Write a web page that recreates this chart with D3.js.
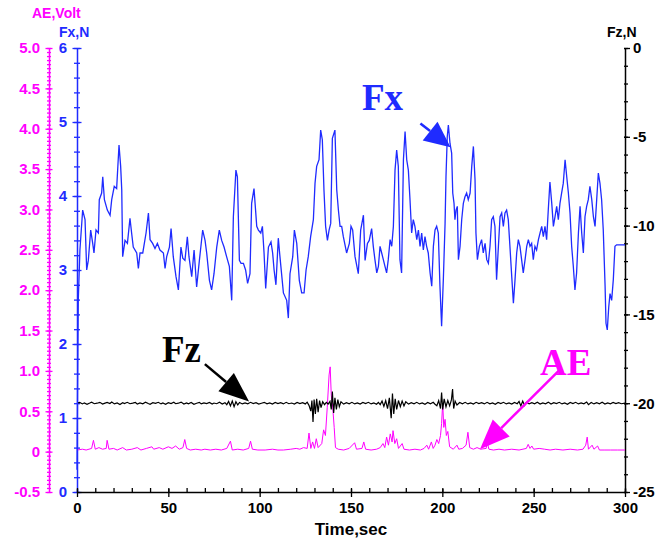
<!DOCTYPE html>
<html>
<head>
<meta charset="utf-8">
<script src="https://cdn.jsdelivr.net/npm/d3@7"></script>
<style>
  body { margin: 0; background: #fff; }
  text { font-family: "Liberation Sans", Arial, sans-serif; font-weight: bold; }
</style>
</head>
<body>
<div id="chart"></div>
<script>
// ---- data: [time sec, value] ----
const fxData = [
  [0,0.3],[0.3,1.4],[0.7,2.59],[1.6,3.27],[3.1,3.81],[4.4,3.68],[5.3,3.0],[6.2,3.13],[7.5,3.54],[8.6,3.36],
  [9.3,3.23],[10.4,3.54],[11.7,3.5],[12.2,3.95],[13.5,4.04],[14.1,4.26],[15.0,3.95],[16.6,3.81],[18.1,3.74],[19.0,3.95],
  [20.4,4.13],[21.7,4.1],[23.0,4.69],[23.9,4.4],[24.5,4.08],[25.0,3.18],[26.3,3.4],[27.6,3.36],[29.0,3.7],[29.9,3.5],
  [30.8,3.31],[32.7,3.23],[33.6,3.02],[34.5,3.23],[36.0,3.23],[37.8,3.5],[39.1,3.77],[40.0,3.41],[41.4,3.36],[42.7,3.29],
  [44.0,3.36],[45.4,3.27],[47.3,3.23],[48.2,3.02],[49.1,3.18],[50.6,3.31],[51.5,3.56],[52.7,3.18],[54.2,2.91],[55.5,2.73],
  [56.9,3.31],[57.9,3.16],[59.1,3.13],[60.4,3.45],[61.3,3.18],[62.8,2.91],[64.1,3.27],[65.5,2.77],[67.0,3.13],[68.8,3.54],
  [70.1,3.4],[71.0,3.23],[72.5,2.86],[73.7,2.73],[75.0,2.95],[76.5,3.31],[77.9,3.54],[79.2,3.4],[80.5,3.31],[81.9,3.18],
  [83.4,3.05],[84.7,2.59],[85.6,3.72],[87.0,4.35],[87.8,4.26],[88.9,3.13],[89.8,3.09],[91.1,3.09],[92.3,3.0],[93.4,2.82],
  [94.7,2.95],[95.6,3.9],[96.9,4.1],[98.4,3.59],[99.3,3.54],[100.6,3.5],[101.5,3.59],[102.4,3.23],[103.3,2.75],[104.8,3.31],
  [106.2,3.38],[107.1,3.23],[107.9,3.0],[108.9,2.8],[110.2,3.43],[111.1,3.18],[113.0,2.69],[114.8,2.59],[115.7,2.35],[116.6,2.95],
  [118.1,3.18],[119.0,3.54],[120.3,3.36],[121.7,2.86],[123.0,2.69],[124.3,2.69],[125.4,3.0],[126.6,3.18],[127.9,3.45],[129.4,3.68],
  [130.3,4.17],[131.2,4.4],[132.5,4.49],[133.4,4.89],[134.3,4.76],[135.2,4.08],[136.1,3.59],[137.1,3.4],[138.0,3.54],[138.9,3.63],
  [139.8,4.78],[141.2,4.89],[142.2,4.08],[143.1,3.81],[144.0,3.59],[144.9,3.59],[145.8,3.45],[147.6,3.23],[149.1,3.36],[150.0,3.59],
  [150.9,3.54],[152.2,3.18],[154.0,2.95],[155.3,3.54],[156.8,3.74],[157.7,3.13],[159.0,3.36],[160.0,3.4],[161.3,3.56],[162.2,3.32],
  [163.1,3.14],[164.1,2.96],[165.0,3.05],[165.9,3.32],[166.8,3.23],[167.7,3.14],[168.6,3.05],[169.5,2.96],[170.4,3.14],[171.4,3.41],
  [172.3,3.32],[173.2,3.59],[174.1,4.35],[175.0,4.62],[175.9,4.4],[176.8,3.14],[177.7,2.96],[178.7,4.49],[179.6,4.87],[180.5,4.49],
  [181.4,4.35],[182.3,3.95],[183.2,3.5],[184.1,3.68],[185.0,3.59],[186.0,3.41],[186.9,3.54],[187.8,3.32],[188.7,3.5],[189.6,3.27],
  [190.5,3.45],[191.4,3.32],[192.3,3.23],[193.3,2.96],[194.2,2.78],[195.1,3.32],[196.0,3.54],[196.9,3.59],[197.8,3.5],[198.7,2.78],
  [199.6,2.24],[200.6,2.91],[201.5,3.63],[202.0,4.26],[202.7,4.8],[203.3,4.96],[204.2,4.71],[205.1,4.58],[205.7,4.04],[206.4,3.9],
  [206.9,3.68],[207.5,3.81],[208.2,3.86],[208.8,3.14],[209.7,3.32],[210.6,3.68],[211.5,3.9],[212.4,3.99],[213.3,4.04],[214.2,3.95],
  [215.2,4.04],[216.1,4.4],[217.0,4.67],[217.9,4.22],[218.4,3.5],[219.2,3.14],[220.3,3.32],[221.5,3.41],[222.4,3.23],[223.4,3.36],
  [224.3,3.14],[225.2,3.09],[226.1,3.32],[227.0,3.68],[227.9,3.72],[228.8,3.59],[229.7,2.87],[230.7,3.32],[231.6,3.72],[232.5,3.77],
  [233.4,3.59],[234.3,3.77],[235.2,3.81],[236.1,3.68],[237.0,3.32],[238.0,2.91],[238.9,2.55],[239.8,2.87],[240.7,3.23],[241.6,3.41],
  [242.5,3.32],[243.4,3.14],[244.3,2.96],[245.3,3.14],[246.2,3.32],[247.1,3.41],[248.0,3.32],[248.9,3.36],[249.8,3.14],[250.7,3.32],
  [251.6,3.27],[252.6,3.41],[253.5,3.5],[254.4,3.59],[255.3,3.45],[256.2,3.59],[257.1,3.41],[258.0,3.81],[258.9,4.19],[259.9,3.9],
  [260.8,3.59],[261.7,3.72],[262.6,3.86],[263.5,3.68],[264.4,3.9],[265.3,4.04],[266.2,4.17],[267.2,4.49],[268.1,4.26],[269.0,4.04],
  [269.9,3.77],[270.8,3.32],[271.7,3.05],[272.6,2.73],[273.5,2.96],[274.5,3.5],[275.4,3.86],[276.3,3.5],[277.2,3.23],[278.1,3.72],
  [279.0,3.86],[279.9,3.95],[280.8,4.13],[281.8,3.95],[282.7,3.72],[283.6,3.59],[284.5,3.95],[285.4,4.31],[286.3,4.17],[287.2,3.95],
  [288.1,3.54],[289.1,2.78],[289.6,2.28],[290.3,2.19],[291.1,2.5],[291.8,2.68],[292.7,2.59],[293.6,2.87],[294.5,3.32],[295.4,3.34],
  [300,3.34]
];

const fzData = [
  [0,-20.0],[1.5,-19.96],[3,-20.04],[4,-19.98],[5.5,-20.06],[7,-19.99],[8,-19.94],[9.5,-20.03],[11,-20.0],[12.5,-19.95],
  [14,-20.05],[15,-20.01],[16.5,-19.96],[18,-20.02],[19,-19.93],[20.5,-20.04],[22,-19.99],[23.5,-20.07],[25,-19.97],[26,-20.02],
  [27.5,-19.95],[29,-20.03],[30.5,-20.0],[32,-19.96],[33,-20.05],[34.5,-19.98],[36,-20.03],[37.5,-19.94],[39,-20.02],[40,-20.06],
  [41.5,-19.97],[43,-20.01],[44.5,-19.95],[46,-20.04],[47,-19.99],[48.5,-20.06],[50,-19.97],[51.5,-20.02],[53,-19.95],[54,-20.03],
  [55.5,-20.0],[57,-19.94],[58.5,-20.05],[60,-19.98],[61,-20.03],[62.5,-19.96],[64,-20.06],[65.5,-20.0],[67,-19.95],[68,-20.04],
  [69.5,-19.98],[71,-20.02],[72.5,-19.96],[74,-20.05],[75,-19.99],[76.5,-20.03],[78,-19.95],[79.5,-20.05],[81,-19.97],[82,-20.08],
  [83,-19.9],[84,-20.15],[85,-19.88],[86,-20.2],[87,-19.92],[88,-20.1],[89,-19.96],[90.5,-20.04],[92,-19.98],[93.5,-20.03],
  [95,-19.95],[96.5,-20.02],[98,-19.97],[99.5,-20.05],[101,-20.0],[102.5,-19.95],[104,-20.03],[105.5,-19.98],[107,-20.05],[108.5,-19.96],
  [110,-20.02],[111.5,-19.97],[113,-20.04],[114.5,-19.95],[116,-20.03],[117.5,-19.99],[119,-20.05],[120.5,-19.96],[122,-20.02],[123.5,-19.97],
  [125,-20.04],[126,-19.94],[127,-20.12],[128,-20.45],[128.6,-19.85],[129.2,-21.05],[129.8,-19.8],[130.5,-20.6],[131.2,-19.75],[132,-20.5],
  [132.8,-19.85],[133.6,-20.25],[134.5,-19.92],[135.5,-20.08],[136.5,-19.95],[137.5,-20.05],[138.5,-19.9],[139.2,-20.35],[139.8,-19.35],[140.5,-20.55],
  [141.2,-19.7],[142,-20.35],[142.8,-19.8],[143.6,-20.2],[144.5,-19.92],[146,-20.05],[147.5,-19.97],[149,-20.03],[150.5,-19.95],[152,-20.04],
  [153.5,-19.98],[155,-20.05],[156.5,-19.96],[158,-20.02],[159.5,-19.95],[161,-20.04],[162.5,-19.98],[164,-20.06],[165,-19.95],[166,-20.08],
  [167,-19.88],[168,-20.18],[169,-19.85],[170,-20.3],[171,-19.7],[172,-20.85],[172.7,-19.45],[173.4,-20.6],[174.2,-19.75],[175,-20.35],
  [176,-19.85],[177,-20.2],[178,-19.88],[179,-20.15],[180,-19.92],[181.5,-20.05],[183,-19.97],[184.5,-20.03],[186,-19.95],[187.5,-20.04],
  [189,-19.98],[190.5,-20.06],[192,-19.96],[193.5,-20.03],[195,-19.95],[196,-20.06],[197,-20.14],[198,-19.85],[199,-20.3],[199.6,-19.4],
  [200.2,-20.35],[201,-19.75],[202,-20.2],[203,-19.85],[204,-20.15],[205,-19.8],[205.6,-19.2],[206.2,-20.3],[207,-19.88],[208,-20.1],
  [209.5,-19.96],[211,-20.03],[212.5,-19.95],[214,-20.04],[215.5,-19.98],[217,-20.05],[218.5,-19.95],[220,-20.02],[221.5,-19.97],[223,-20.04],
  [224.5,-19.95],[226,-20.03],[227.5,-19.98],[229,-20.06],[230.5,-19.96],[232,-20.02],[233.5,-19.95],[235,-20.04],[236.5,-19.98],[238,-20.05],
  [239.5,-19.96],[241,-20.03],[242,-19.9],[243,-20.15],[244,-19.88],[245,-20.12],[246,-19.95],[247.5,-20.04],[249,-19.97],[250.5,-20.03],
  [252,-19.95],[253.5,-20.05],[255,-19.98],[256.5,-20.03],[258,-19.94],[259.5,-20.05],[261,-19.97],[262.5,-20.02],[264,-19.95],[265.5,-20.04],
  [267,-19.98],[268.5,-20.06],[270,-19.96],[271.5,-20.02],[273,-19.95],[274.5,-20.04],[276,-19.98],[277.5,-20.03],[279,-19.93],[280,-20.08],
  [281.5,-19.96],[283,-20.04],[284.5,-19.97],[286,-20.03],[287.5,-19.95],[289,-20.05],[290.5,-19.98],[292,-20.03],[293.5,-19.96],[295,-20.02],
  [296.5,-19.97],[298,-20.03],[300,-20.0]
];

const aeData = [
  [0,0.02],[3,0.03],[5,0.02],[8,0.04],[9,0.14],[10,0.03],[12,0.05],[14,0.03],[16,0.04],[16.5,0.14],
  [17.5,0.03],[20,0.04],[22,0.02],[25,0.05],[27,0.02],[30,0.03],[33,0.05],[35,0.02],[38,0.04],[41,0.06],
  [42,0.03],[45,0.05],[47,0.03],[50,0.06],[52,0.04],[54,0.07],[56,0.03],[58,0.05],[59,0.15],[60,0.04],
  [62,0.02],[65,0.03],[68,0.02],[70,0.03],[73,0.02],[76,0.03],[79,0.02],[82,0.04],[84,0.13],[85,0.02],
  [88,0.03],[91,0.02],[94,0.04],[95,0.13],[96,0.03],[99,0.02],[103,0.02],[107,0.03],[110,0.02],[113,0.02],
  [117,0.03],[120,0.04],[122,0.03],[124,0.05],[126,0.04],[127,0.23],[128,0.04],[129,0.12],[130,0.04],[131,0.16],
  [132,0.05],[134,0.1],[135,0.27],[136,0.2],[137,0.55],[138,0.95],[138.6,1.05],[139.2,0.7],[140,0.55],[140.8,0.3],
  [141.5,0.05],[143,0.03],[146,0.02],[149,0.04],[152,0.11],[153,0.03],[156,0.04],[157,0.12],[158,0.03],[161,0.02],
  [164,0.03],[166,0.05],[167.5,0.1],[168.5,0.05],[169.5,0.18],[170.5,0.08],[171.5,0.22],[172.5,0.12],[173,0.26],[174,0.1],
  [175,0.16],[176,0.04],[178,0.1],[179,0.03],[182,0.02],[185,0.03],[188,0.02],[190,0.04],[191.5,0.08],[192.5,0.03],
  [194,0.12],[195,0.04],[196,0.08],[197,0.15],[198,0.1],[199,0.2],[199.6,0.35],[200.2,0.6],[200.8,0.3],[201.5,0.4],
  [202.2,0.2],[203,0.25],[204,0.06],[206,0.03],[208,0.08],[209,0.03],[211,0.04],[213,0.08],[214,0.24],[215,0.05],
  [217,0.03],[219,0.05],[221,0.03],[224,0.04],[224.5,0.12],[225.5,0.03],[228,0.02],[231,0.03],[234,0.02],[238,0.03],
  [242,0.02],[246,0.04],[247,0.09],[248,0.04],[249,0.07],[250,0.03],[253,0.04],[256,0.03],[259,0.02],[262,0.03],
  [266,0.02],[270,0.03],[274,0.02],[277,0.03],[278.5,0.08],[279.3,0.18],[280,0.03],[282,0.08],[283,0.03],[285,0.07],
  [286,0.02],[289,0.02],[292,0.02],[296,0.02],[300,0.02]
];

// tick values
const timeTicks = [0, 50, 100, 150, 200, 250, 300];
const aeTicks = [-0.5, 0, 0.5, 1.0, 1.5, 2.0, 2.5, 3.0, 3.5, 4.0, 4.5, 5.0];
const fxTicks = [0, 1, 2, 3, 4, 5, 6];
const fzTicks = [-25, -20, -15, -10, -5, 0];

const blue = "#1f2bff", magenta = "#ff00ff", black = "#000";

const svg = d3.select("#chart").append("svg")
    .attr("width", 670)
    .attr("height", 540)
    .style("background", "#fff");

// scales
const x = d3.scaleLinear().domain([0, 300]).range([77, 625]);
const yAE = d3.scaleLinear().domain([-0.5, 5]).range([492, 48]);
const yFx = d3.scaleLinear().domain([0, 6]).range([492, 48]);
const yFz = d3.scaleLinear().domain([-25, 0]).range([492, 48]);

function styleAxis(g, color, size) {
  g.select(".domain").attr("stroke", color).attr("stroke-width", 1.5);
  g.selectAll(".tick line").attr("stroke", color).attr("stroke-width", 1.3);
  g.selectAll("text").attr("fill", color)
    .style("font-size", size + "px")
    .style("font-family", '"Liberation Sans", Arial, sans-serif')
    .style("font-weight", "bold");
}

// ---- AE axis (magenta, left outer) ----
const aeMinor = svg.append("g").attr("transform", "translate(49,0)")
    .call(d3.axisLeft(yAE).tickValues(d3.range(-10, 101).map(i => i * 0.05)).tickFormat("").tickSizeOuter(0));
aeMinor.selectAll(".tick line").attr("x1", -2).attr("x2", 2);
styleAxis(aeMinor, magenta, 15);
const aeAxis = svg.append("g").attr("transform", "translate(49,0)")
    .call(d3.axisLeft(yAE).tickValues(aeTicks).tickSizeOuter(0)
      .tickFormat(d => d === 0 ? "0" : d3.format(".1f")(d).replace("−", "-")));
aeAxis.select(".domain").remove();
aeAxis.selectAll(".tick line").attr("x1", -3.5).attr("x2", 3.5);
aeAxis.selectAll(".tick text").attr("x", -9);
styleAxis(aeAxis, magenta, 15);

// ---- Fx axis (blue, left inner) ----
const fxMinor = svg.append("g").attr("transform", "translate(77,0)")
    .call(d3.axisLeft(yFx).tickValues(d3.range(0, 31).map(i => i * 0.2)).tickFormat("").tickSizeOuter(0));
fxMinor.selectAll(".tick line").attr("x1", -3).attr("x2", 3);
styleAxis(fxMinor, blue, 15);
const fxAxis = svg.append("g").attr("transform", "translate(77,0)")
    .call(d3.axisLeft(yFx).tickValues(fxTicks).tickFormat(d3.format("d")).tickSizeOuter(0));
fxAxis.select(".domain").remove();
fxAxis.selectAll(".tick line").attr("x1", -4.5).attr("x2", 4.5);
fxAxis.selectAll(".tick text").attr("x", -10);
styleAxis(fxAxis, blue, 15);

// ---- Fz axis (black, right) ----
const fzMinor = svg.append("g").attr("transform", "translate(625,0)")
    .call(d3.axisRight(yFz).tickValues(d3.range(-25, 1)).tickFormat("").tickSizeOuter(0));
fzMinor.selectAll(".tick line").attr("x1", -1).attr("x2", 3);
styleAxis(fzMinor, black, 15);
const fzAxis = svg.append("g").attr("transform", "translate(625,0)")
    .call(d3.axisRight(yFz).tickValues(fzTicks).tickFormat(d => String(d)).tickSizeOuter(0));
fzAxis.select(".domain").remove();
fzAxis.selectAll(".tick line").attr("x1", -1).attr("x2", 5);
fzAxis.selectAll(".tick text").attr("x", 8);
styleAxis(fzAxis, black, 15);

// ---- Time axis (bottom) ----
const tMinor = svg.append("g").attr("transform", "translate(0,492)")
    .call(d3.axisBottom(x).tickValues(d3.range(0, 31).map(i => i * 10)).tickFormat("").tickSizeOuter(0));
tMinor.selectAll(".tick line").attr("y1", -4).attr("y2", 1);
styleAxis(tMinor, black, 15);
const tAxis = svg.append("g").attr("transform", "translate(0,492)")
    .call(d3.axisBottom(x).tickValues(timeTicks).tickSizeOuter(0));
tAxis.select(".domain").remove();
tAxis.selectAll(".tick line").attr("y1", -3).attr("y2", 5);
tAxis.selectAll(".tick text").attr("y", 21).attr("dy", null);
styleAxis(tAxis, black, 15);

// axis titles
svg.append("text").attr("x", 32).attr("y", 18).attr("fill", magenta)
    .style("font-size", "14px").text("AE,Volt");
svg.append("text").attr("x", 59).attr("y", 37).attr("fill", blue)
    .style("font-size", "14px").text("Fx,N");
svg.append("text").attr("x", 607).attr("y", 37).attr("fill", black)
    .style("font-size", "14px").text("Fz,N");
svg.append("text").attr("x", 351).attr("y", 535).attr("text-anchor", "middle").attr("fill", black)
    .style("font-size", "17px").text("Time,sec");

// ---- series ----
svg.append("path").datum(aeData)
    .attr("fill", "none").attr("stroke", magenta).attr("stroke-width", 1)
    .attr("d", d3.line().x(d => x(d[0])).y(d => yAE(d[1])));

svg.append("path").datum(fzData)
    .attr("fill", "none").attr("stroke", black).attr("stroke-width", 1.2)
    .attr("d", d3.line().x(d => x(d[0])).y(d => yFz(d[1])));

svg.append("path").datum(fxData)
    .attr("fill", "none").attr("stroke", blue).attr("stroke-width", 1.3)
    .attr("d", d3.line().x(d => x(d[0])).y(d => yFx(d[1])));

// ---- annotations (arrows + big serif labels) ----
function arrow(x1, y1, x2, y2, headLen, headW, color, lw) {
  const dx = x2 - x1, dy = y2 - y1, L = Math.hypot(dx, dy);
  const ux = dx / L, uy = dy / L;
  const bx = x2 - ux * headLen, by = y2 - uy * headLen;
  svg.append("line").attr("x1", x1).attr("y1", y1).attr("x2", bx).attr("y2", by)
      .attr("stroke", color).attr("stroke-width", lw);
  svg.append("path")
      .attr("d", `M${x2},${y2}L${bx - uy * headW},${by + ux * headW}L${bx + uy * headW},${by - ux * headW}Z`)
      .attr("fill", color);
}

function bigLabel(px, py, txt, color) {
  svg.append("text").attr("x", px).attr("y", py).attr("fill", color)
      .style("font-family", '"Liberation Serif", "Times New Roman", serif')
      .style("font-weight", "bold").style("font-size", "37px").text(txt);
}

bigLabel(x(156), yFx(5.16), "Fx", blue);
arrow(x(188), yFx(4.98), x(204.5), yFx(4.66), 26, 12, blue, 2.5);

bigLabel(x(46.5), yFz(-17.68), "Fz", black);
arrow(x(70), yFz(-17.8), x(94.2), yFz(-19.9), 30, 12, black, 2.5);

bigLabel(x(253.5), yAE(0.95), "AE", magenta);
arrow(x(264.5), yAE(1.02), x(220.6), yAE(0.03), 30, 12, magenta, 2.5);
</script>
</body>
</html>
